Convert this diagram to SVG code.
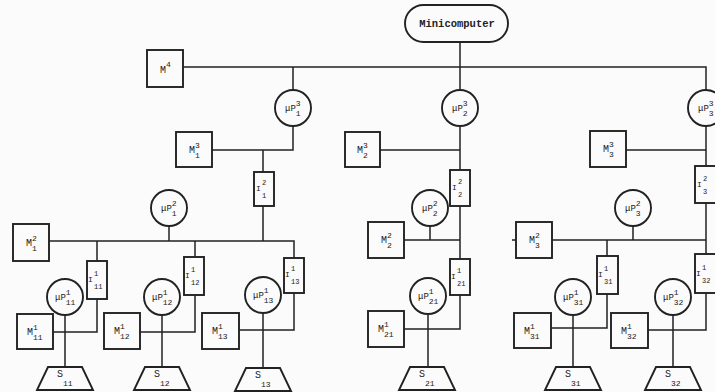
<svg xmlns="http://www.w3.org/2000/svg" width="715" height="392" viewBox="0 0 715 392">
<style>
.ln{stroke:#222;stroke-width:1.5;fill:none}
.bx{stroke:#222;stroke-width:1.9;fill:#fbfbfb}
text{font-family:"Liberation Mono","DejaVu Sans Mono",monospace;fill:#222}
.t{font-size:10px}
.c{font-size:9px}
.i{font-size:8px}
.s{font-size:8px}
.si{font-size:7px}
</style>
<rect x="0" y="0" width="715" height="392" fill="#fbfbfb"/>
<g id="connectors" class="ln">
<path d="M183 67H706V90"/>
<path d="M460 42V90"/>
<path d="M293 67V90M293 126V150H212M263 150V172M263 206V241"/>
<path d="M49 241H294V258"/>
<path d="M169 226V241"/>
<path d="M97 241V261M97 299V332H53M65 315V367"/>
<path d="M195 241V257M195 295V332H140M162 315V367"/>
<path d="M294 293V330H239M263 313V367"/>
<path d="M460 126V170M460 150H380M460 206V259M404 240H460M430 226V240M460 295V329H404M428 314V367"/>
<path d="M706 126V166M706 150H626M706 203V254M552 240H706M512 240H516M633 226V240"/>
<path d="M607 240V256M607 294V328H551M573 315V367"/>
<path d="M706 293V330H648M673 315V367"/>
</g>
<g id="minicomputer"><rect class="bx" x="405" y="5" width="103" height="37" rx="18.5"/><text x="457" y="27" font-size="10.5" font-weight="bold" text-anchor="middle">Minicomputer</text></g>
<g id="M4"><rect class="bx" x="147" y="50" width="36" height="37"/><text class="t" x="160" y="73">M<tspan class="s" dy="-6">4</tspan></text></g>
<g id="M1_3"><rect class="bx" x="176" y="132" width="36" height="35"/><text class="t" x="189" y="153">M<tspan class="s" dy="-5">3</tspan><tspan class="s" x="195" dy="10">1</tspan></text></g>
<g id="M2_3"><rect class="bx" x="345" y="132" width="35" height="35"/><text class="t" x="357" y="153">M<tspan class="s" dy="-5">3</tspan><tspan class="s" x="363" dy="10">2</tspan></text></g>
<g id="M3_3"><rect class="bx" x="590" y="131" width="36" height="36"/><text class="t" x="603" y="152">M<tspan class="s" dy="-5">3</tspan><tspan class="s" x="609" dy="10">3</tspan></text></g>
<g id="M1_2"><rect class="bx" x="13" y="224" width="36" height="37"/><text class="t" x="26" y="246">M<tspan class="s" dy="-5">2</tspan><tspan class="s" x="32" dy="10">1</tspan></text></g>
<g id="M2_2"><rect class="bx" x="368" y="222" width="36" height="36"/><text class="t" x="381" y="243">M<tspan class="s" dy="-5">2</tspan><tspan class="s" x="387" dy="10">2</tspan></text></g>
<g id="M3_2"><rect class="bx" x="516" y="222" width="36" height="36"/><text class="t" x="529" y="243">M<tspan class="s" dy="-5">2</tspan><tspan class="s" x="535" dy="10">3</tspan></text></g>
<g id="M11_1"><rect class="bx" x="17" y="314" width="36" height="35"/><text class="t" x="27" y="335">M<tspan class="s" dy="-5">1</tspan><tspan class="s" x="33" dy="10">11</tspan></text></g>
<g id="M12_1"><rect class="bx" x="104" y="313" width="36" height="36"/><text class="t" x="114" y="334">M<tspan class="s" dy="-5">1</tspan><tspan class="s" x="120" dy="10">12</tspan></text></g>
<g id="M13_1"><rect class="bx" x="202" y="313" width="37" height="36"/><text class="t" x="212" y="334">M<tspan class="s" dy="-5">1</tspan><tspan class="s" x="218" dy="10">13</tspan></text></g>
<g id="M21_1"><rect class="bx" x="368" y="311" width="36" height="36"/><text class="t" x="378" y="332">M<tspan class="s" dy="-5">1</tspan><tspan class="s" x="384" dy="10">21</tspan></text></g>
<g id="M31_1"><rect class="bx" x="514" y="313" width="37" height="35"/><text class="t" x="524" y="334">M<tspan class="s" dy="-5">1</tspan><tspan class="s" x="530" dy="10">31</tspan></text></g>
<g id="M32_1"><rect class="bx" x="611" y="313" width="37" height="35"/><text class="t" x="621" y="334">M<tspan class="s" dy="-5">1</tspan><tspan class="s" x="627" dy="10">32</tspan></text></g>
<g id="uP1_3"><circle class="bx" cx="293" cy="108" r="18"/><text class="c" x="285" y="111">μP<tspan class="s" dy="-5">3</tspan><tspan class="s" x="295.8" dy="10">1</tspan></text></g>
<g id="uP2_3"><circle class="bx" cx="460" cy="108" r="18"/><text class="c" x="452" y="111">μP<tspan class="s" dy="-5">3</tspan><tspan class="s" x="462.8" dy="10">2</tspan></text></g>
<g id="uP3_3"><circle class="bx" cx="706" cy="108" r="18"/><text class="c" x="698" y="111">μP<tspan class="s" dy="-5">3</tspan><tspan class="s" x="708.8" dy="10">3</tspan></text></g>
<g id="uP1_2"><circle class="bx" cx="169" cy="208" r="18"/><text class="c" x="161" y="211">μP<tspan class="s" dy="-5">2</tspan><tspan class="s" x="171.8" dy="10">1</tspan></text></g>
<g id="uP2_2"><circle class="bx" cx="430" cy="208" r="18"/><text class="c" x="422" y="211">μP<tspan class="s" dy="-5">2</tspan><tspan class="s" x="432.8" dy="10">2</tspan></text></g>
<g id="uP3_2"><circle class="bx" cx="633" cy="208" r="18"/><text class="c" x="625" y="211">μP<tspan class="s" dy="-5">2</tspan><tspan class="s" x="635.8" dy="10">3</tspan></text></g>
<g id="uP11_1"><circle class="bx" cx="65" cy="297" r="18"/><text class="c" x="55" y="300">μP<tspan class="s" dy="-5">1</tspan><tspan class="s" x="65.8" dy="10">11</tspan></text></g>
<g id="uP12_1"><circle class="bx" cx="162" cy="297" r="18"/><text class="c" x="152" y="300">μP<tspan class="s" dy="-5">1</tspan><tspan class="s" x="162.8" dy="10">12</tspan></text></g>
<g id="uP13_1"><circle class="bx" cx="263" cy="295" r="18"/><text class="c" x="253" y="298">μP<tspan class="s" dy="-5">1</tspan><tspan class="s" x="263.8" dy="10">13</tspan></text></g>
<g id="uP21_1"><circle class="bx" cx="428" cy="296" r="18"/><text class="c" x="418" y="299">μP<tspan class="s" dy="-5">1</tspan><tspan class="s" x="428.8" dy="10">21</tspan></text></g>
<g id="uP31_1"><circle class="bx" cx="573" cy="297" r="18"/><text class="c" x="563" y="300">μP<tspan class="s" dy="-5">1</tspan><tspan class="s" x="573.8" dy="10">31</tspan></text></g>
<g id="uP32_1"><circle class="bx" cx="673" cy="297" r="18"/><text class="c" x="663" y="300">μP<tspan class="s" dy="-5">1</tspan><tspan class="s" x="673.8" dy="10">32</tspan></text></g>
<g id="I1_2"><rect class="bx" x="254" y="172" width="20" height="34"/><text class="i" x="256" y="191">I<tspan class="si" x="262" y="185">2</tspan><tspan class="si" x="262" y="198">1</tspan></text></g>
<g id="I2_2"><rect class="bx" x="450" y="170" width="20" height="36"/><text class="i" x="452" y="190">I<tspan class="si" x="458" y="184">2</tspan><tspan class="si" x="458" y="197">2</tspan></text></g>
<g id="I3_2"><rect class="bx" x="695" y="166" width="22" height="37"/><text class="i" x="697" y="187">I<tspan class="si" x="703" y="181">2</tspan><tspan class="si" x="703" y="194">3</tspan></text></g>
<g id="I11_1"><rect class="bx" x="87" y="261" width="20" height="38"/><text class="i" x="88" y="282">I<tspan class="si" x="94" y="276">1</tspan><tspan class="si" x="94" y="289">11</tspan></text></g>
<g id="I12_1"><rect class="bx" x="184" y="257" width="20" height="38"/><text class="i" x="185" y="278">I<tspan class="si" x="191" y="272">1</tspan><tspan class="si" x="191" y="285">12</tspan></text></g>
<g id="I13_1"><rect class="bx" x="284" y="258" width="20" height="35"/><text class="i" x="285" y="277">I<tspan class="si" x="291" y="271">1</tspan><tspan class="si" x="291" y="284">13</tspan></text></g>
<g id="I21_1"><rect class="bx" x="450" y="259" width="20" height="36"/><text class="i" x="451" y="279">I<tspan class="si" x="457" y="273">1</tspan><tspan class="si" x="457" y="286">21</tspan></text></g>
<g id="I31_1"><rect class="bx" x="597" y="256" width="21" height="38"/><text class="i" x="598" y="277">I<tspan class="si" x="604" y="271">1</tspan><tspan class="si" x="604" y="284">31</tspan></text></g>
<g id="I32_1"><rect class="bx" x="695" y="254" width="22" height="39"/><text class="i" x="696" y="276">I<tspan class="si" x="702" y="270">1</tspan><tspan class="si" x="702" y="283">32</tspan></text></g>
<g id="S11"><polygon class="bx" points="48,367 82,367 93,390 37,390"/><text class="t" x="57" y="377">S<tspan class="s" x="63" y="386">11</tspan></text></g>
<g id="S12"><polygon class="bx" points="145,367 179,367 190,390 134,390"/><text class="t" x="154" y="377">S<tspan class="s" x="160" y="386">12</tspan></text></g>
<g id="S13"><polygon class="bx" points="246,368 280,368 291,391 235,391"/><text class="t" x="255" y="378">S<tspan class="s" x="261" y="387">13</tspan></text></g>
<g id="S21"><polygon class="bx" points="410,367 444,367 455,390 399,390"/><text class="t" x="419" y="377">S<tspan class="s" x="425" y="386">21</tspan></text></g>
<g id="S31"><polygon class="bx" points="556,367 590,367 601,390 545,390"/><text class="t" x="565" y="377">S<tspan class="s" x="571" y="386">31</tspan></text></g>
<g id="S32"><polygon class="bx" points="656,367 690,367 701,390 645,390"/><text class="t" x="665" y="377">S<tspan class="s" x="671" y="386">32</tspan></text></g>
</svg>
